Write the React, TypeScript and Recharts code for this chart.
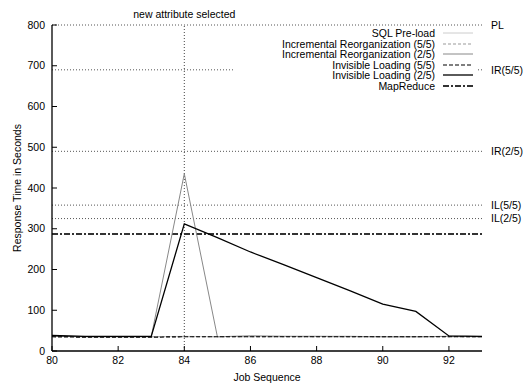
import { LineChart, Line, XAxis, YAxis, ReferenceLine, Legend } from 'recharts';

const jobs = [80, 81, 82, 83, 84, 85, 86, 87, 88, 89, 90, 91, 92, 93];
const sqlPreload = [38, 35, 35, 35, 36, 35, 37, 36, 36, 35, 35, 35, 36, 35];
const irFive = [36, 35, 35, 35, 35, 35, 35, 35, 35, 35, 35, 35, 35, 35];
const irTwo = [36, 35, 35, 35, 435, 35, 37, 36, 36, 36, 35, 35, 36, 35];
const ilFive = [35, 34, 34, 34, 35, 35, 35, 35, 35, 35, 35, 35, 35, 35];
const ilTwo = [38, 36, 36, 36, 312, 278, 243, 212, 180, 148, 115, 97, 37, 36];
const mapReduce = 287;

const xTicks = [80, 82, 84, 86, 88, 90, 92];
const yTicks = [0, 100, 200, 300, 400, 500, 600, 700, 800];

const levels = [
  { name: 'PL', value: 800 },
  { name: 'IR(5/5)', value: 690 },
  { name: 'IR(2/5)', value: 490 },
  { name: 'IL(5/5)', value: 358 },
  { name: 'IL(2/5)', value: 325 },
];

const data = jobs.map((job, i) => ({
  job,
  sql: sqlPreload[i],
  ir5: irFive[i],
  ir2: irTwo[i],
  il5: ilFive[i],
  il2: ilTwo[i],
}));

const styles = {
  sql: { stroke: '#cccccc', strokeWidth: 1, dash: undefined },
  ir5: { stroke: '#999999', strokeWidth: 1, dash: '3 2' },
  ir2: { stroke: '#888888', strokeWidth: 1, dash: undefined },
  il5: { stroke: '#000000', strokeWidth: 1.2, dash: '4 2' },
  il2: { stroke: '#000000', strokeWidth: 1.3, dash: undefined },
  mr: { stroke: '#333333', strokeWidth: 2, dash: '6 2 2 2' },
};

const legendItems = [
  { key: 'sql', name: 'SQL Pre-load' },
  { key: 'ir5', name: 'Incremental Reorganization (5/5)' },
  { key: 'ir2', name: 'Incremental Reorganization (2/5)' },
  { key: 'il5', name: 'Invisible Loading (5/5)' },
  { key: 'il2', name: 'Invisible Loading (2/5)' },
  { key: 'mr', name: 'MapReduce' },
];

const font = '"Liberation Sans", Arial, Helvetica, sans-serif';

function Key() {
  return (
    <div style={{ background: '#fff', fontFamily: font, fontSize: 10.5 }}>
      {legendItems.map((it) => {
        const s = styles[it.key as keyof typeof styles];
        return (
          <div
            key={it.key}
            style={{ display: 'flex', justifyContent: 'flex-end', alignItems: 'center', height: 10.5, lineHeight: '10.5px', paddingRight: 5 }}
          >
            <span>{it.name}</span>
            <svg width={30} height={8} style={{ marginLeft: 8 }}>
              <line x1={0} y1={4} x2={30} y2={4} stroke={s.stroke} strokeWidth={s.strokeWidth} strokeDasharray={s.dash} />
            </svg>
          </div>
        );
      })}
    </div>
  );
}

export default function App() {
  const tickStyle = { fill: '#000', fontSize: 10.5, fontFamily: font };
  return (
    <div style={{ position: 'absolute', left: 0, top: 0 }}>
      <LineChart width={526} height={383} data={data} margin={{ top: 25, right: 44, bottom: 0, left: 0 }}>
        <XAxis
          dataKey="job"
          type="number"
          domain={[80, 93]}
          ticks={xTicks}
          height={32}
          tickSize={-5}
          tickMargin={11}
          tick={tickStyle}
          axisLine={{ stroke: '#000', strokeWidth: 1.3 }}
          tickLine={{ stroke: '#000' }}
          label={{ value: 'Job Sequence', position: 'insideBottom', offset: 2, fill: '#000', fontSize: 10.5, fontFamily: font }}
        />
        <XAxis
          xAxisId="top"
          orientation="top"
          dataKey="job"
          type="number"
          domain={[80, 93]}
          ticks={xTicks}
          height={0}
          tickSize={-5}
          tick={false}
          axisLine={{ stroke: '#000', strokeWidth: 1.3 }}
          tickLine={{ stroke: '#000' }}
        />
        <YAxis
          type="number"
          domain={[0, 800]}
          ticks={yTicks}
          width={52}
          tickSize={-5}
          tickMargin={12}
          tick={tickStyle}
          axisLine={{ stroke: '#000', strokeWidth: 1.3 }}
          tickLine={{ stroke: '#000' }}
          label={{
            value: 'Response Time in Seconds',
            angle: -90,
            position: 'insideLeft',
            offset: 17,
            fill: '#000',
            fontSize: 10.5,
            fontFamily: font,
            style: { textAnchor: 'middle' },
          }}
        />
        <YAxis
          yAxisId="right"
          orientation="right"
          type="number"
          domain={[0, 800]}
          ticks={yTicks}
          width={0}
          tickSize={-5}
          tick={false}
          axisLine={{ stroke: '#000', strokeWidth: 1.3 }}
          tickLine={{ stroke: '#000' }}
        />
        {levels.map((l) => (
          <ReferenceLine
            key={l.name}
            y={l.value}
            stroke="#555"
            strokeDasharray="1 2"
            label={{ value: l.name, position: 'right', offset: 9, fill: '#000', fontSize: 10.5, fontFamily: font }}
          />
        ))}
        <ReferenceLine
          x={84}
          stroke="#444"
          strokeDasharray="1 2"
          label={{ value: 'new attribute selected', position: 'top', offset: 7, fill: '#000', fontSize: 10.5, fontFamily: font }}
        />
        <ReferenceLine y={mapReduce} stroke={styles.mr.stroke} strokeWidth={styles.mr.strokeWidth} strokeDasharray={styles.mr.dash} />
        {legendItems
          .filter((it) => it.key !== 'mr')
          .map((it) => {
            const s = styles[it.key as keyof typeof styles];
            return (
              <Line
                key={it.key}
                type="linear"
                dataKey={it.key}
                name={it.name}
                stroke={s.stroke}
                strokeWidth={s.strokeWidth}
                strokeDasharray={s.dash}
                dot={false}
                isAnimationActive={false}
              />
            );
          })}
        <Legend
          layout="vertical"
          align="center"
          verticalAlign="middle"
          content={<Key />}
          wrapperStyle={{ top: 28, left: 233, width: 245 }}
        />
      </LineChart>
    </div>
  );
}
